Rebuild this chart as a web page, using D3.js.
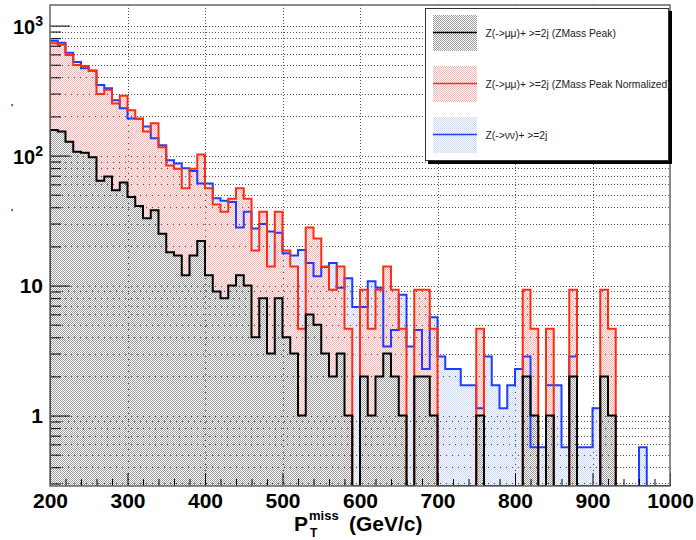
<!DOCTYPE html>
<html><head><meta charset="utf-8">
<script src="https://cdn.jsdelivr.net/npm/d3@7"></script>
<style>
body{margin:0;background:#fff;}
svg{display:block;}
text{font-family:"Liberation Sans",Arial,Helvetica,sans-serif;}
</style></head><body>
<svg id="c" width="696" height="540"></svg>
<script>
// ---- data ----
const binLow = [200,210,220,230,240,250,260,270,280,290,300,310,320,330,340,350,360,370,380,390,
  400,410,420,430,440,450,460,470,480,490,500,510,520,530,540,550,560,570,580,590,
  600,610,620,630,640,650,660,670,680,690,700,710,720,730,740,750,760,770,780,790,
  800,810,820,830,840,850,860,870,880,890,900,910,920,930,940,950,960,970,980,990];
const binWidth = 10;
// Z(->mumu)+ >=2j (ZMass Peak)  [black]
const zmmPeak = [157,153,128,107,105,97,64,69,54,62,
  48,41,33,38,25,18,17,12,17,22,
  12,9,8,10,12,10,4,8,3,8,
  4,3,1,6,5,3,2,3,1,0,
  2,1,2,3,2,1,0,2,2,1,
  0,0,0,0,0,1,0,0,0,0,
  0,2,1,0,1,0,0,2,0,0,
  0,2,1,0,0,0,0,0,0,0];
// Z(->mumu)+ >=2j (ZMass Peak Normalized)  [red]
const zmmNorm = [730,711,595,498,488,451,298,321,251,288,
  223,191,153,177,116,84,79,56,79,102,
  56,42,37,46.5,56,46.5,18.6,37,14,37,
  18.6,14,4.65,28,23,14,9.3,14,4.65,0,
  9.3,4.65,9.3,14,9.3,4.65,0,9.3,9.3,4.65,
  0,0,0,0,0,4.65,0,0,0,0,
  0,9.3,4.65,0,4.65,0,0,9.3,0,0,
  0,9.3,4.65,0,0,0,0,0,0,0];
// Z(->nunu)+ >=2j  [blue]
const znunu = [764,738,618,524,469,449,349,329,267,231,
  193,193,167,136,120,92,87,80,76,61,
  61,47,45,44,28,37,27.5,29.7,26,25.5,
  17.7,17,18.8,14.9,11.8,13.9,14.9,9.6,11.4,6.84,
  6.84,10.8,9.6,3.4,4.56,8.5,3.4,4.56,2.28,5.7,
  2.85,2.28,2.28,1.71,1.71,1.14,2.85,1.71,1.14,1.71,
  2.28,2.85,0.57,0.57,1.71,1.71,0.57,2.85,0.57,0.57,
  1.14,0,0,0,0,0,0.57,0,0,0];
const xTickValues = [200,300,400,500,600,700,800,900,1000];
const xTickLabels = ["200","300","400","500","600","700","800","900","1000"];
const xMinorValues = [220,240,260,280,320,340,360,380,420,440,460,480,520,540,560,580,
  620,640,660,680,720,740,760,780,820,840,860,880,920,940,960,980];
const yMajorValues = [1,10,100,1000];
const yMajorLabels = [["1",""],["10",""],["10","2"],["10","3"]];
const yMinorValues = [0.3,0.4,0.5,0.6,0.7,0.8,0.9,2,3,4,5,6,7,8,9,20,30,40,50,60,70,80,90,
  200,300,400,500,600,700,800,900];
const legendLabels = ["Z(->μμ)+ >=2j (ZMass Peak)","Z(->μμ)+ >=2j (ZMass Peak Normalized)","Z(->νν)+ >=2j"];
const xTitle = ["P","miss","T","(GeV/c)"];

// ---- layout ----
const svg = d3.select("#c");
const x = d3.scaleLinear().domain([200,1000]).range([50,670]);
const y = d3.scaleLog().domain([0.287,1440]).range([486,5]);
const X0 = x.range()[0], X1 = x.range()[1], Y0 = y.range()[0], Y1 = y.range()[1];

const defs = svg.append("defs");
defs.append("clipPath").attr("id","clip").append("rect")
  .attr("x",X0).attr("y",Y1).attr("width",X1-X0).attr("height",Y0-Y1);
function pattern(id,color){
  const p = defs.append("pattern").attr("id",id).attr("patternUnits","userSpaceOnUse")
    .attr("width",2).attr("height",2);
  p.append("rect").attr("x",0).attr("y",0).attr("width",1).attr("height",1).attr("fill",color);
  p.append("rect").attr("x",1).attr("y",1).attr("width",1).attr("height",1).attr("fill",color);
}
pattern("pGrey","#9a9a9a");
pattern("pRed","#f7b2b2");
pattern("pBlue","#c8d8f5");

// grid
const grid = svg.append("g").attr("stroke","#555").attr("stroke-width",1).attr("stroke-dasharray","1,2");
yMinorValues.concat(yMajorValues).forEach(v=>{
  const yy = Math.round(y(v))+0.5;
  grid.append("line").attr("x1",X0).attr("x2",X1).attr("y1",yy).attr("y2",yy);
});
xTickValues.slice(1,-1).forEach(v=>{
  const xx = Math.round(x(v))+0.5;
  grid.append("line").attr("x1",xx).attr("x2",xx).attr("y1",Y1).attr("y2",Y0);
});

// histograms
function yv(v){ return v > y.domain()[0] ? y(v) : Y0; }
function stepPath(vals, closed){
  let p = `M${x(binLow[0])},${Y0}`;
  vals.forEach((v,i)=>{
    const a = x(binLow[i]), b = x(binLow[i]+binWidth), h = yv(v);
    p += `L${a},${h}L${b},${h}`;
  });
  p += `L${x(binLow[binLow.length-1]+binWidth)},${Y0}`;
  if (closed) p += "Z";
  return p;
}
const series = [
  {vals: znunu,   fill:"url(#pBlue)", stroke:"#1f3dff"},
  {vals: zmmNorm, fill:"url(#pRed)",  stroke:"#ff2d10"},
  {vals: zmmPeak, fill:"url(#pGrey)", stroke:"#000000"}
];
const plot = svg.append("g").attr("clip-path","url(#clip)");
series.forEach(s=>{
  plot.append("path").attr("d",stepPath(s.vals,true)).attr("fill",s.fill).attr("stroke","none");
});
series.forEach(s=>{
  plot.append("path").attr("d",stepPath(s.vals,false)).attr("fill","none")
    .attr("stroke",s.stroke).attr("stroke-width",2).attr("stroke-linejoin","miter");
});

// axes ticks (inward)
function tickAxis(axis){
  const g = svg.append("g");
  g.call(axis);
  g.select(".domain").remove();
  g.selectAll("line").attr("stroke","#000");
  return g;
}
tickAxis(d3.axisLeft(y).tickValues(yMajorValues).tickSize(-20).tickFormat(""))
  .attr("transform",`translate(${X0},0)`);
tickAxis(d3.axisLeft(y).tickValues(yMinorValues).tickSize(-11).tickFormat(""))
  .attr("transform",`translate(${X0},0)`);
tickAxis(d3.axisBottom(x).tickValues(xMinorValues).tickSize(-7).tickFormat(""))
  .attr("transform",`translate(0,${Y0})`);
const xg = tickAxis(d3.axisBottom(x).tickValues(xTickValues).tickSize(-13).tickPadding(7)
  .tickFormat((d,i)=>xTickLabels[i])).attr("transform",`translate(0,${Y0})`);
xg.selectAll("text").attr("font-size",21).attr("font-weight","bold")
  .attr("font-family",'"Liberation Sans",Arial,sans-serif').attr("fill","#000");

// frame
svg.append("rect").attr("x",X0).attr("y",Y1).attr("width",X1-X0).attr("height",Y0-Y1)
  .attr("fill","none").attr("stroke","#666").attr("stroke-width",1.5);

// y labels
yMajorValues.forEach((v,i)=>{
  const [base,exp] = yMajorLabels[i];
  const t = svg.append("text").attr("x",43).attr("text-anchor","end")
    .attr("font-weight","bold").attr("fill","#000");
  if (exp) {
    t.attr("y", y(v)+8).attr("font-size",20);
    t.append("tspan").text(base);
    t.append("tspan").attr("font-size",14).attr("dy",-8).text(exp);
  } else {
    t.attr("y", y(v)+7.5).attr("font-size",21).text(base);
  }
});
// tiny stray marks at the left edge
svg.append("text").attr("x",11).attr("y",110).attr("font-size",9).attr("font-weight","bold").text("'");
svg.append("text").attr("x",11).attr("y",215).attr("font-size",9).attr("font-weight","bold").text("'");

// x title
const title = svg.append("text").attr("font-weight","bold").attr("font-size",21).attr("fill","#000");
title.append("tspan").attr("x",294).attr("y",531).text(xTitle[0]);
title.append("tspan").attr("x",309).attr("y",520).attr("font-size",13).text(xTitle[1]);
title.append("tspan").attr("x",310).attr("y",536.5).attr("font-size",12).text(xTitle[2]);
title.append("tspan").attr("x",349).attr("y",531).text(xTitle[3]);

// legend
const lg = svg.append("g");
lg.append("rect").attr("x",428).attr("y",11).attr("width",244).attr("height",153).attr("fill","#000");
lg.append("rect").attr("x",425.5).attr("y",8.5).attr("width",243).attr("height",152)
  .attr("fill","#fff").attr("stroke","#333").attr("stroke-width",1);
const legendSeries = [series[2],series[1],series[0]];
const entryY = [15,66,117];
legendLabels.forEach((lab,i)=>{
  const s = legendSeries[i], y0 = entryY[i];
  lg.append("rect").attr("x",433).attr("y",y0).attr("width",44).attr("height",36).attr("fill",s.fill);
  lg.append("line").attr("x1",433).attr("x2",477).attr("y1",y0+17.5).attr("y2",y0+17.5)
    .attr("stroke",s.stroke).attr("stroke-width",1.5);
  lg.append("text").attr("x",485.5).attr("y",y0+21.5).attr("font-size",10.3).attr("fill","#222").text(lab);
});
</script></body></html>
